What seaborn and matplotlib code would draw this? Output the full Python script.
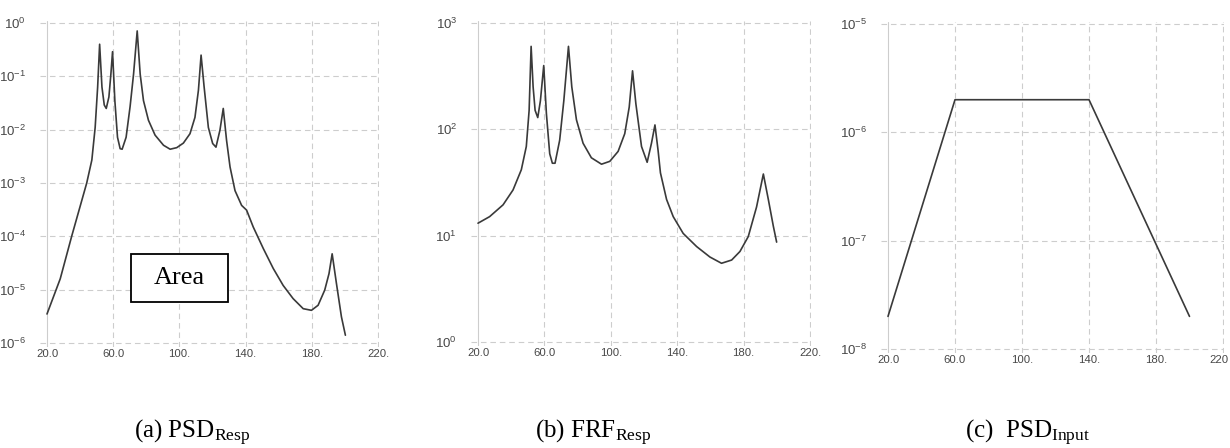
import matplotlib
matplotlib.use("Agg")
import matplotlib.pyplot as plt
from matplotlib.patches import Rectangle
from matplotlib.transforms import ScaledTranslation
import pandas as pd
import seaborn as sns

# ---- data -------------------------------------------------------------
# (a) response PSD
psd_resp_freq = [20.0, 28.0, 34.9, 44.0, 47.1, 49.1, 50.6, 51.8, 53.2, 54.6,
                 55.8, 57.4, 58.6, 59.6, 61.0, 62.6, 64.2, 65.4, 67.8, 70.2,
                 72.3, 74.5, 76.3, 78.3, 81.3, 85.3, 90.4, 94.4, 98.4, 102.4,
                 106.4, 109.4, 111.5, 113.1, 114.9, 117.5, 120.1, 122.1, 124.5, 126.5,
                 128.5, 130.6, 133.6, 137.6, 140.6, 144.6, 150.7, 156.7, 162.7, 168.7,
                 174.8, 179.8, 183.8, 187.8, 190.4, 192.3, 194.9, 197.9, 200.3]
psd_resp_val = [3.5e-6, 1.6e-5, 1.0e-4, 1.0e-3, 2.7e-3, 1.1e-2, 6.3e-2, 0.40, 6.3e-2, 2.9e-2,
                2.5e-2, 4.1e-2, 0.11, 0.29, 3.5e-2, 7.2e-3, 4.4e-3, 4.3e-3, 7.2e-3, 2.7e-2,
                0.11, 0.71, 0.11, 3.5e-2, 1.5e-2, 7.9e-3, 5.1e-3, 4.3e-3, 4.6e-3, 5.6e-3,
                8.4e-3, 1.7e-2, 5.5e-2, 0.25, 6.5e-2, 1.1e-2, 5.5e-3, 4.7e-3, 9.8e-3, 2.5e-2,
                6.3e-3, 2.0e-3, 7.2e-4, 3.8e-4, 3.1e-4, 1.5e-4, 5.9e-5, 2.5e-5, 1.2e-5, 6.8e-6,
                4.4e-6, 4.1e-6, 5.1e-6, 9.8e-6, 2.0e-5, 4.7e-5, 1.3e-5, 3.1e-6, 1.4e-6]

# (b) response FRF
frf_resp_freq = [20.0, 27.0, 35.1, 41.1, 46.1, 49.1, 50.8, 52.0, 53.2, 54.4,
                 56.0, 57.6, 59.6, 61.2, 63.2, 64.8, 66.4, 69.2, 71.7, 74.5,
                 76.5, 79.3, 83.3, 88.3, 94.4, 99.4, 104.4, 108.4, 111.1, 113.1,
                 115.1, 118.5, 121.9, 124.5, 126.6, 128.5, 129.9, 133.6, 137.6, 143.6,
                 151.7, 159.7, 166.7, 172.8, 177.8, 182.8, 187.8, 191.9, 194.9, 197.9,
                 199.9]
frf_resp_val = [13.1, 15.1, 19.5, 26.9, 41.7, 69.0, 151.0, 603.0, 251.0, 151.0,
                129.0, 186.0, 398.0, 141.0, 59.0, 48.0, 48.0, 79.0, 186.0, 603.0,
                251.0, 123.0, 74.0, 54.0, 47.0, 50.0, 62.0, 91.0, 162.0, 355.0,
                174.0, 69.0, 49.0, 74.0, 110.0, 63.0, 39.0, 21.9, 15.1, 10.5,
                7.9, 6.3, 5.5, 5.9, 7.1, 9.8, 18.6, 38.0, 21.9, 12.3,
                8.7]

# (c) input PSD profile
psd_input_freq = [20.0, 60.0, 140.0, 200.0]
psd_input_val = [2.0e-8, 2.0e-6, 2.0e-6, 2.0e-8]

x_ticks = [20, 60, 100, 140, 180, 220]
x_tick_labels = ["20.0", "60.0", "100.", "140.", "180.", "220."]

captions = [r"(a) PSD$_{\mathrm{Resp}}$", r"(b) FRF$_{\mathrm{Resp}}$",
            r"(c)  PSD$_{\mathrm{Input}}$"]

# ---- style ------------------------------------------------------------
sns.set_theme(style="white")
plt.rcParams["font.family"] = ["Liberation Sans", "DejaVu Sans"]
plt.rcParams["mathtext.fontset"] = "custom"
plt.rcParams["mathtext.rm"] = "Liberation Serif"
plt.rcParams["mathtext.it"] = "Liberation Serif:italic"

W, H = 1230, 448
fig = plt.figure(figsize=(W / 100, H / 100), dpi=100)
fig.patch.set_facecolor("white")

GRID = "#cdcdcd"
LINE = "#3a3a3a"
TXT = "#474747"


def make_axes(x20, x220, ytop, ybot, dec_lo, dec_hi):
    """Create a log-y panel whose 20..220 / decade span sits at the given pixels."""
    pl, pr, pt, pb = 7, 1, 2, 4
    ppf = (x220 - x20) / 200.0
    ppd = (ybot - ytop) / float(dec_hi - dec_lo)
    left, right = x20 - pl, x220 + pr
    top, bottom = ytop - pt, ybot + pb
    ax = fig.add_axes([left / W, 1 - bottom / H, (right - left) / W, (bottom - top) / H])
    ax.set_yscale("log")
    ax.set_xlim(20 - pl / ppf, 220 + pr / ppf)
    ax.set_ylim(10 ** (dec_lo - pb / ppd), 10 ** (dec_hi + pt / ppd))
    for s in ax.spines.values():
        s.set_visible(False)
    ax.set_facecolor("white")
    decades = list(range(dec_lo, dec_hi + 1))
    for d in decades:
        ax.axhline(10.0 ** d, color=GRID, lw=0.8, ls=(0, (5, 3.5)), zorder=0)
    for xv in x_ticks:
        style = "-" if xv == 20 else (0, (5, 3.5))
        ax.axvline(xv, color=GRID, lw=0.8, ls=style, zorder=0)
    ax.set_xticks(x_ticks)
    ax.set_xticklabels(x_tick_labels)
    ax.set_yticks([10.0 ** d for d in decades])
    ax.set_yticklabels([r"$\mathdefault{10^{%d}}$" % d for d in decades])
    ax.yaxis.set_minor_locator(matplotlib.ticker.NullLocator())
    ax.tick_params(axis="x", length=0, pad=1.5, labelsize=8.2, labelcolor=TXT)
    ax.tick_params(axis="y", length=0, pad=10, labelsize=9.5, labelcolor=TXT)
    return ax


def draw(ax, freq, val):
    df = pd.DataFrame({"freq": freq, "val": val})
    sns.lineplot(data=df, x="freq", y="val", ax=ax, color=LINE, lw=1.2,
                 estimator=None, sort=False)
    ax.set_xlabel("")
    ax.set_ylabel("")


ax_a = make_axes(47, 378, 23, 343, -6, 0)
draw(ax_a, psd_resp_freq, psd_resp_val)

ax_b = make_axes(478, 810, 23, 342, 0, 3)
draw(ax_b, frf_resp_freq, frf_resp_val)

ax_c = make_axes(888, 1223, 24, 349, -8, -5)
draw(ax_c, psd_input_freq, psd_input_val)

# the last label of panel (c) runs into the page edge: keep it inside
last = ax_c.get_xticklabels()[-1]
last.set_text("220")
ax_c.set_xticklabels([t.get_text() for t in ax_c.get_xticklabels()[:-1]] + ["220"])
last = ax_c.get_xticklabels()[-1]
last.set_horizontalalignment("right")
last.set_transform(last.get_transform() + ScaledTranslation(5 / 100, 0, fig.dpi_scale_trans))

# "Area" label box on panel (a)
bx0, by0, bx1, by1 = 131, 254, 228, 302
fig.patches.append(Rectangle((bx0 / W, 1 - by1 / H), (bx1 - bx0) / W, (by1 - by0) / H,
                             transform=fig.transFigure, fill=True, facecolor="white",
                             edgecolor="black", lw=1.3, zorder=5))
fig.text((bx0 + bx1) / 2 / W, 1 - (by0 + by1) / 2 / H, "Area", ha="center", va="center",
         family="Liberation Serif", fontsize=19, color="black", zorder=6)

# sub-figure captions
for cx, cap in zip([192, 593, 1028], captions):
    fig.text(cx / W, 1 - 438 / H, cap, ha="center", va="baseline",
             family="Liberation Serif", fontsize=18, color="black")

fig.savefig("out.png", dpi=100, facecolor="white")
